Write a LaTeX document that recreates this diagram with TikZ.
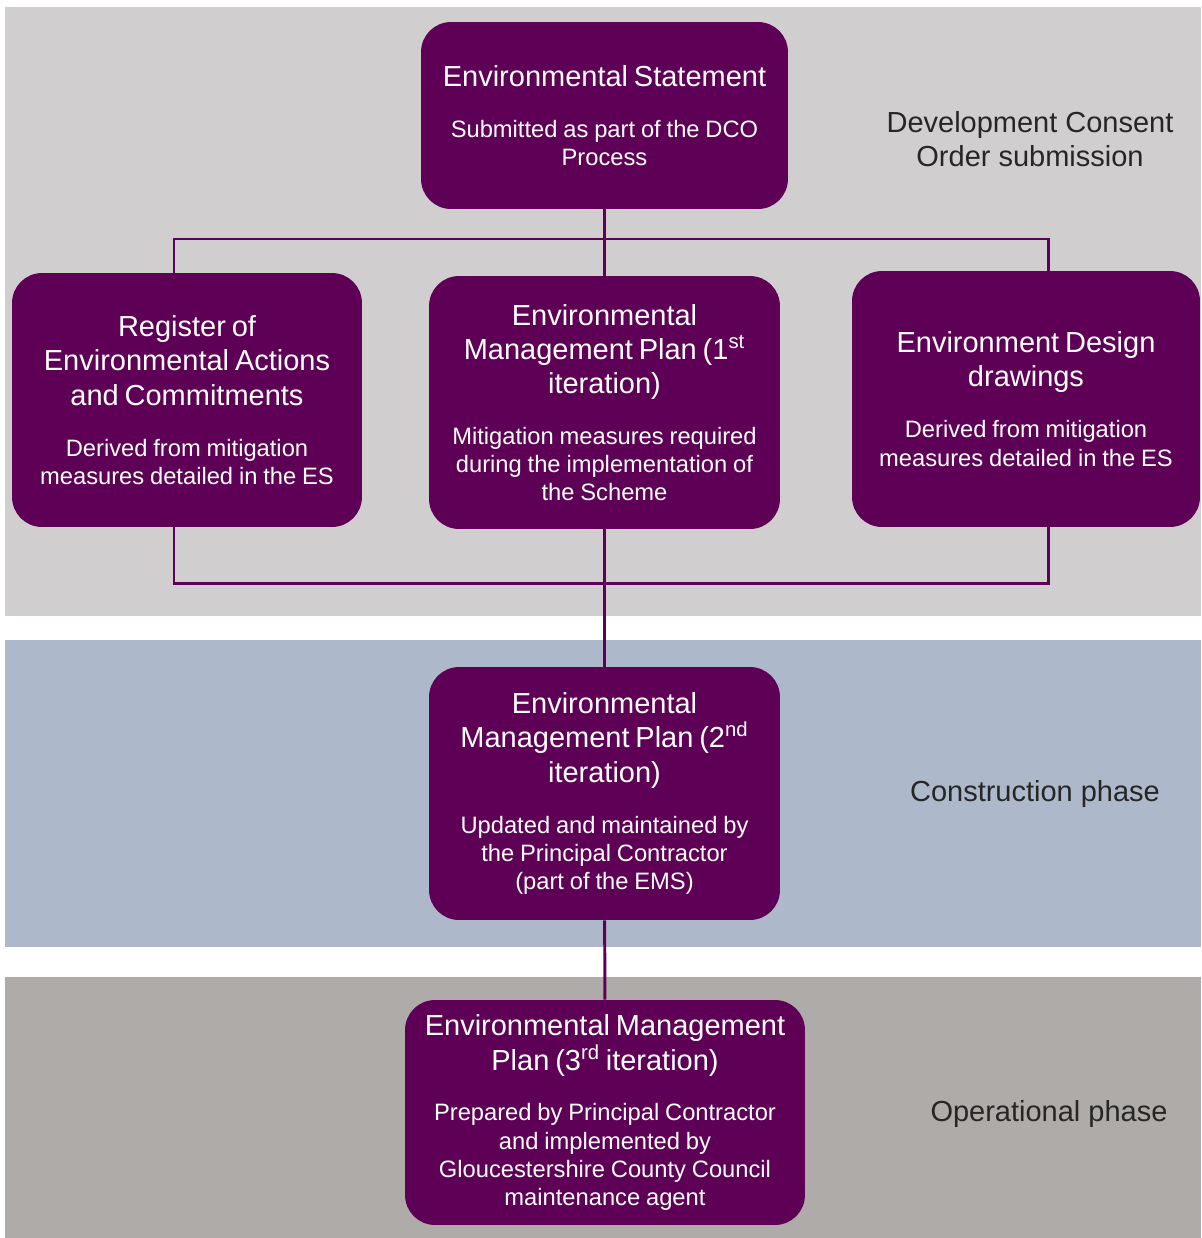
\documentclass[tikz,border=0pt]{standalone}
\usepackage{fontspec}
\setmainfont{Liberation Sans}
\usepackage{tikz}

\definecolor{plum}{HTML}{5F0057}
\definecolor{bandtop}{HTML}{D0CECF}
\definecolor{bandmid}{HTML}{ADB9CB}
\definecolor{bandbot}{HTML}{AFABA9}
\newcommand\ttlfont{\fontsize{16.5}{19.5}\selectfont}
\newcommand\subfont{\fontsize{13.5}{16}\selectfont}

\begin{document}
\begin{tikzpicture}[x=0.02cm,y=-0.02cm,line cap=butt,
			box/.style={fill=plum,text=white,rounded corners=0.6cm,inner xsep=0pt,inner ysep=0pt,
				align=center,text width=#1,minimum width=#1},
			phase/.style={text=black!85,align=center,font=\ttlfont},
			link/.style={draw=plum,line width=1.7pt}]
			\useasboundingbox (0,0) rectangle (1201,1238);
			\fill[white] (0,0) rectangle (1201,1238);
			% phase bands
			\fill[bandtop] (5,7) rectangle (1201,616);
			\fill[bandmid] (5,640) rectangle (1201,947);
			\fill[bandbot] (5,977) rectangle (1201,1238);
			
			\node[box=7.34cm,minimum height=3.74cm] (es) at (604.5,115.5)
			{{\ttlfont Environmental Statement\par}\vspace{13pt}
			{\subfont Submitted as part of the DCO\\Process\par}};
			\node[box=7cm,minimum height=5.08cm] (reg) at (187,400)
			{{\ttlfont Register of\\Environmental Actions\\and Commitments\par}\vspace{13pt}
			{\subfont Derived from mitigation\\measures detailed in the ES\par}};
			\node[box=7.02cm,minimum height=5.06cm] (emp1) at (604.5,402.5)
			{{\ttlfont Environmental\\Management Plan (1\textsuperscript{st}\\iteration)\par}\vspace{13pt}
			{\subfont Mitigation measures required\\during the implementation of\\the Scheme\par}};
			\node[box=6.96cm,minimum height=5.12cm] (edd) at (1026,399)
			{{\ttlfont Environment Design\\drawings\par}\vspace{13pt}
			{\subfont Derived from mitigation\\measures detailed in the ES\par}};
			\node[box=7.02cm,minimum height=5.06cm] (emp2) at (604.5,793.5)
			{{\ttlfont Environmental\\Management Plan (2\textsuperscript{nd}\\iteration)\par}\vspace{13pt}
			{\subfont Updated and maintained by\\the Principal Contractor\\(part of the EMS)\par}};
			\node[box=8cm,minimum height=4.5cm] (emp3) at (605,1112.5)
			{{\ttlfont Environmental Management\\Plan (3\textsuperscript{rd} iteration)\par}\vspace{13pt}
			{\subfont Prepared by Principal Contractor\\and implemented by\\Gloucestershire County Council\\maintenance agent\par}};
			
			\node[phase] (dco) at (1030,139) {Development Consent\\Order submission};
			\node[phase] (cons) at (1035,794) {Construction phase};
			\node[phase] (oper) at (1049,1114) {Operational phase};
			
			\coordinate (up) at (174,239);
			\coordinate (upr) at (1048,239);
			\coordinate (lo) at (174,583);
			\coordinate (lor) at (1048,583);
			\draw[link] (up |- reg.north) -- (up) -- (upr) -- (upr |- edd.north);
			\draw[link] (lo |- reg.south) -- (lo) -- (lor) -- (lor |- edd.south);
			\draw[link] (es) -- (emp1);
			\draw[link] (emp1) -- (emp2);
			\draw[link] (emp2) -- (emp3);
		\end{tikzpicture}
\end{document}
